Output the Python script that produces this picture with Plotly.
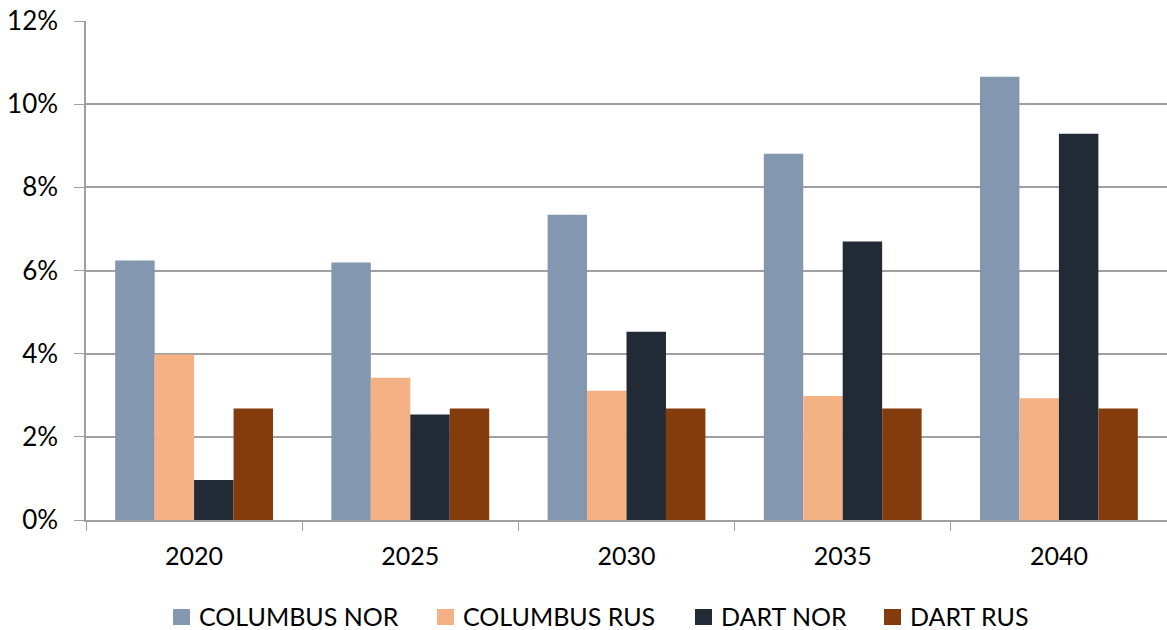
import plotly.graph_objects as go

years = ["2020", "2025", "2030", "2035", "2040"]
columbus_nor = [0.0624, 0.0619, 0.0734, 0.0881, 0.1066]
columbus_rus = [0.0398, 0.0342, 0.0311, 0.0298, 0.0293]
dart_nor = [0.0096, 0.0254, 0.0453, 0.0670, 0.0929]
dart_rus = [0.0268, 0.0268, 0.0268, 0.0268, 0.0268]

series_names = ["COLUMBUS NOR", "COLUMBUS RUS", "DART NOR", "DART RUS"]
series_values = [columbus_nor, columbus_rus, dart_nor, dart_rus]
series_colors = ["#8497B0", "#F4B183", "#222A35", "#843C0C"]

W, H = 1167, 630
ML, MR, MT, MB = 86, 0, 21, 110
PW, PH = W - ML - MR, H - MT - MB

fig = go.Figure()
for name, vals, color in zip(series_names, series_values, series_colors):
    fig.add_trace(go.Bar(x=years, y=vals, name=name, showlegend=False,
                         marker=dict(color=color, line=dict(width=0))))

# manual legend (positions in pixels converted to paper coords)
legend_marker_px = [173, 437, 695, 884]
legend_text_px = [198, 462, 720, 909]
legend_cy_px = 616
shapes, annots = [], []
for name, color, mx, tx in zip(series_names, series_colors, legend_marker_px, legend_text_px):
    x0 = (mx - ML) / PW
    x1 = (mx + 17 - ML) / PW
    y0 = (MT + PH - (legend_cy_px + 9)) / PH
    y1 = (MT + PH - (legend_cy_px - 7)) / PH
    shapes.append(dict(type="rect", xref="paper", yref="paper", x0=x0, x1=x1, y0=y0, y1=y1,
                       fillcolor=color, line=dict(width=0)))
    annots.append(dict(text=name, xref="paper", yref="paper", x=(tx - ML) / PW,
                       y=(MT + PH - legend_cy_px) / PH, xanchor="left", yanchor="middle",
                       showarrow=False, borderpad=0, height=26,
                       font=dict(size=25, color="#000000")))

font = "Lato, 'Open Sans', sans-serif"
fig.update_layout(
    width=W, height=H,
    margin=dict(l=ML, r=MR, t=MT, b=MB),
    paper_bgcolor="white", plot_bgcolor="white",
    barmode="group", bargap=0.27, bargroupgap=0,
    font=dict(family=font, size=25, color="#000000"),
    showlegend=False,
    shapes=shapes, annotations=annots,
    xaxis=dict(type="category", showline=True, linecolor="#A0A0A0", linewidth=1.5,
               ticks="outside", tickson="boundaries", ticklen=9, tickcolor="#A0A0A0",
               tickfont=dict(size=25), showgrid=False, ticklabelstandoff=13),
    yaxis=dict(range=[0, 0.12], dtick=0.02, tickformat=".0%", showgrid=True,
               gridcolor="#A0A0A0", gridwidth=1.5, showline=True, linecolor="#A0A0A0",
               linewidth=1.5, ticks="outside", ticklen=10, tickcolor="#A0A0A0",
               tickfont=dict(size=26), zeroline=False, ticklabelstandoff=11),
)
fig.write_html("out.html")
